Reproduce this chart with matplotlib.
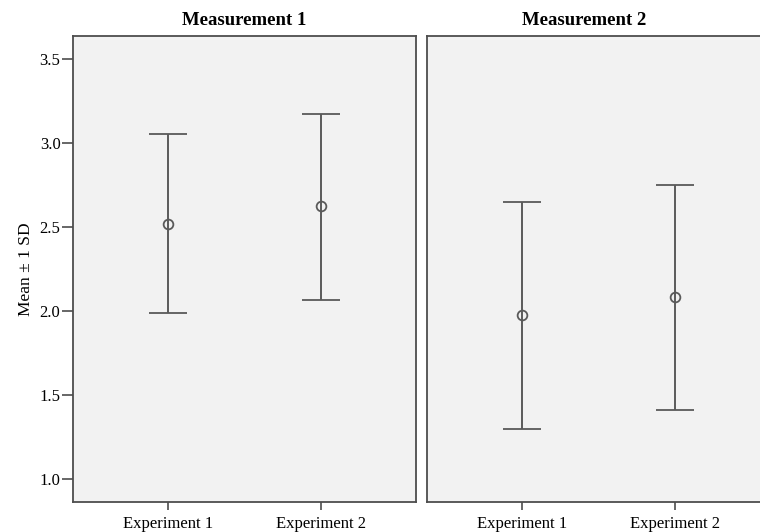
import matplotlib
matplotlib.use("Agg")
import matplotlib.pyplot as plt

plt.rcParams['font.family'] = ['Liberation Serif', 'DejaVu Serif']

# 数据：每个面板两组实验的均值与 ±1 SD 的上下端
panels = ["Measurement 1", "Measurement 2"]
groups = ["Experiment 1", "Experiment 2"]
means = [[2.52, 2.625], [1.976, 2.086]]
upper = [[3.055, 3.178], [2.649, 2.754]]
lower = [[1.988, 2.070], [1.300, 1.414]]
yticks = [1.0, 1.5, 2.0, 2.5, 3.0, 3.5]

line_col = "#5a5a5a"
edge_col = "#4d4d4d"

fig = plt.figure(figsize=(7.6, 5.32), dpi=100)
ax1 = fig.add_axes([0.096, 0.0564, 0.451, 0.876])
ax2 = fig.add_axes([0.562, 0.0564, 0.451, 0.876], sharey=ax1)

title_x = [0.5, 0.458]
for i, ax in enumerate([ax1, ax2]):
    ax.set_facecolor("#f2f2f2")
    xs = list(range(len(groups)))
    err_lo = [m - l for m, l in zip(means[i], lower[i])]
    err_hi = [u - m for m, u in zip(means[i], upper[i])]
    ax.errorbar(xs, means[i], yerr=[err_lo, err_hi], fmt="o",
                color=line_col, ecolor=line_col, elinewidth=1.4,
                capsize=13.5, capthick=1.4, markersize=7,
                markerfacecolor="none", markeredgecolor=line_col,
                markeredgewidth=1.3)
    ax.set_xlim(-0.62, 1.62)
    ax.set_xticks(xs)
    ax.set_xticklabels(groups, fontsize=12)
    ax.tick_params(axis="x", direction="out", length=6, width=1.2,
                   color=edge_col, pad=4)
    for s in ax.spines.values():
        s.set_color(edge_col)
        s.set_linewidth(1.3)
    ax.set_title(panels[i], fontsize=13.5, fontweight="bold",
                 x=title_x[i], pad=8)

ax1.set_ylim(0.865, 3.64)
ax1.set_yticks(yticks)
ax1.set_yticklabels([f"{v:.1f}" for v in yticks], fontsize=12)
ax1.tick_params(axis="y", direction="out", length=8, width=1.2,
                color=edge_col, pad=1)
ax1.set_ylabel("Mean ± 1 SD", fontsize=12.5, labelpad=4)
ax2.tick_params(axis="y", left=False, labelleft=False)

fig.savefig("out.png", dpi=100, facecolor="white")
